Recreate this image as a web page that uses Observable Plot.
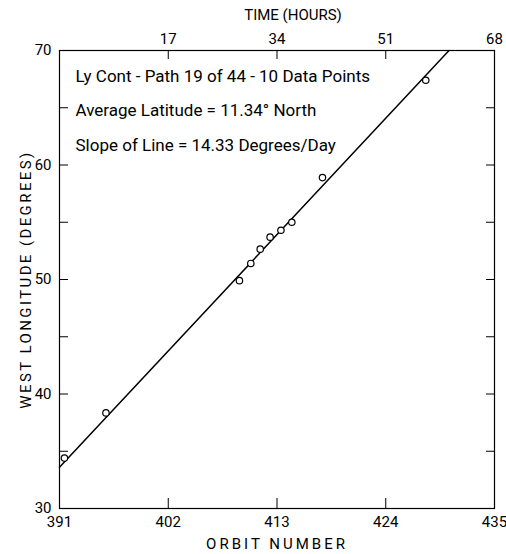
<!DOCTYPE html>
<html>
<head>
<meta charset="utf-8">
<script src="https://cdn.jsdelivr.net/npm/d3@7"></script>
<script src="https://cdn.jsdelivr.net/npm/@observablehq/plot@0.6"></script>
<style>
  html, body { margin: 0; padding: 0; background: #fff; }
  #chart svg { display: block; }
  #chart g[aria-label="x-axis label"] text { letter-spacing: 3px; font-size: 15px; }
  #chart g[aria-label="y-axis label"] text { letter-spacing: 2.4px; font-size: 15px; }
  #chart g[aria-label="x-axis tick label"] text,
  #chart g[aria-label="y-axis tick label"] text { font-size: 15px; }
</style>
</head>
<body>
<div id="chart"></div>
<script>
// Observed data points
const orbits = [391.5, 395.7, 409.2, 410.35, 411.3, 412.3, 413.4, 414.5, 417.6, 428.05];
const longitudes = [34.4, 38.35, 49.9, 51.4, 52.65, 53.7, 54.3, 55.0, 58.9, 67.4];

// Fitted line (endpoints)
const lineOrbits = [391, 430.4];
const lineLongitudes = [33.6, 70];

// Axes
const orbitDomain = [391, 435];
const lonDomain = [30, 70];
const orbitTicks = [391, 402, 413, 424, 435];
const lonTicks = [30, 35, 40, 45, 50, 55, 60, 65, 70];
const timeDomain = [0, 68];
const timeTicks = [17, 34, 51, 68];
const timeLabel = "TIME (HOURS)";

const annotations = [
  "Ly Cont - Path 19 of 44 - 10 Data Points",
  "Average Latitude = 11.34° North",
  "Slope of Line = 14.33 Degrees/Day"
];

const points = orbits.map((o, i) => ({orbit: o, lon: longitudes[i]}));
const fitLine = lineOrbits.map((o, i) => ({orbit: o, lon: lineLongitudes[i]}));
const timeToOrbit = d3.scaleLinear().domain(timeDomain).range(orbitDomain);

const chart = Plot.plot({
  width: 506,
  height: 554,
  marginLeft: 59,
  marginRight: 12,
  marginTop: 50,
  marginBottom: 46,
  style: {fontFamily: "Roboto, 'DejaVu Sans', sans-serif", fontSize: "14px", color: "black", background: "white"},
  x: {domain: orbitDomain},
  y: {domain: lonDomain},
  marks: [
    Plot.frame({stroke: "black", strokeWidth: 1.2}),
    Plot.axisX({anchor: "bottom", ticks: orbitTicks, tickSize: -10, tickPadding: 18, tickFormat: d => d,
      label: "ORBIT NUMBER", labelAnchor: "center", labelArrow: "none", labelOffset: 40}),
    Plot.axisX({anchor: "top", ticks: timeTicks.map(t => timeToOrbit(t)), tickSize: -8, tickPadding: 15,
      tickFormat: o => Math.round(timeToOrbit.invert(o)), label: null}),
    Plot.text([timeLabel], {text: d => d, frameAnchor: "top", dx: 16, dy: -35, lineAnchor: "middle",
      fontSize: 15, fill: "black"}),
    Plot.axisY({anchor: "left", ticks: lonTicks, tickSize: -9, tickPadding: 17,
      tickFormat: d => d % 10 === 0 ? d : "",
      label: "WEST LONGITUDE (DEGREES)", labelAnchor: "center", labelArrow: "none", labelOffset: 39}),
    Plot.axisY({anchor: "right", ticks: lonTicks, tickSize: -9, tickFormat: () => "", label: null}),
    Plot.line(fitLine, {x: "orbit", y: "lon", stroke: "black", strokeWidth: 1.5}),
    Plot.dot(points, {x: "orbit", y: "lon", r: 3.2, stroke: "black", fill: "white", strokeWidth: 1.2}),
    ...annotations.map((t, i) => Plot.text([t], {
      text: d => d,
      frameAnchor: "top-left",
      textAnchor: "start",
      dx: 16,
      dy: 19 + i * 34.5,
      fontSize: 17,
      fill: "black"
    }))
  ]
});
document.getElementById("chart").appendChild(chart);
</script>
</body>
</html>
